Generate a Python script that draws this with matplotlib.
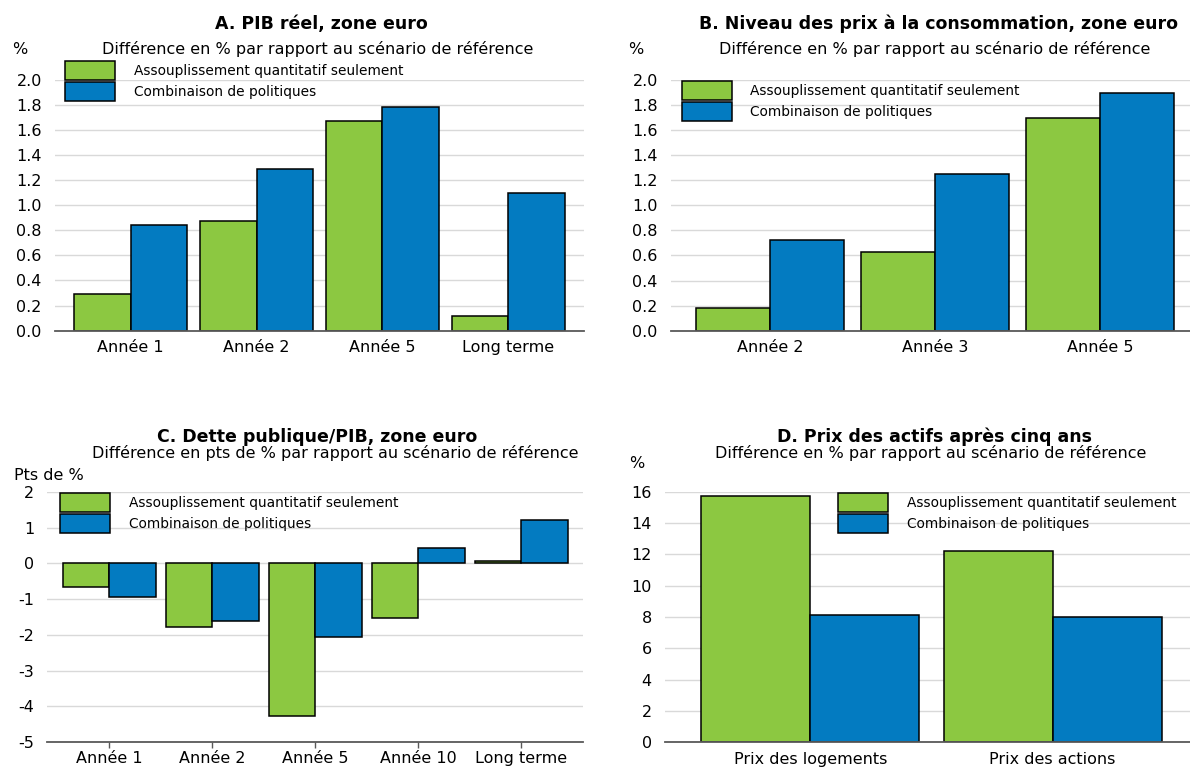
import matplotlib
matplotlib.use("Agg")
import matplotlib.pyplot as plt
import numpy as np

# la police de référence est large : DejaVu Sans s'en approche mieux qu'Arial
plt.rcParams["font.family"] = ["DejaVu Sans"]

W, H = 1190, 767

GREEN = "#8CC841"
BLUE = "#037BC1"
GRID = "#d9d9d9"
AXIS = "#595959"

SERIES = ["Assouplissement quantitatif seulement", "Combinaison de politiques"]
SUB_PCT = "Différence en % par rapport au scénario de référence"
SUB_PTS = "Différence en pts de % par rapport au scénario de référence"

# A. PIB réel
cats_a = ["Année 1", "Année 2", "Année 5", "Long terme"]
qe_a = [0.29, 0.87, 1.67, 0.12]
mix_a = [0.84, 1.29, 1.78, 1.10]

# B. Prix à la consommation
cats_b = ["Année 2", "Année 3", "Année 5"]
qe_b = [0.18, 0.63, 1.70]
mix_b = [0.72, 1.25, 1.90]

# C. Dette publique/PIB
cats_c = ["Année 1", "Année 2", "Année 5", "Année 10", "Long terme"]
qe_c = [-0.65, -1.78, -4.26, -1.54, 0.07]
mix_c = [-0.93, -1.61, -2.05, 0.43, 1.21]

# D. Prix des actifs
cats_d = ["Prix des logements", "Prix des actions"]
qe_d = [15.7, 12.2]
mix_d = [8.1, 8.0]

FS_TITLE = 12.5
FS_SUB = 11.5
FS_TICK = 11.5
FS_LEG = 9.9


def box(x0, y0, x1, y1):
    # boîte en pixels (origine en haut à gauche) -> fraction de figure
    return [x0 / W, 1 - y1 / H, (x1 - x0) / W, (y1 - y0) / H]


def ftxt(fig, x, y, s, **kw):
    fig.text(x / W, 1 - y / H, s, va="center", **kw)


def panel(fig, rect, cats, qe, mix, ylim, yticks, fmt, ticks_on=False):
    ax = fig.add_axes(rect)
    x = np.arange(len(cats))
    w = 0.45
    ax.bar(x - w / 2, qe, w, color=GREEN, edgecolor="black", linewidth=1.1,
           label=SERIES[0], zorder=3)
    ax.bar(x + w / 2, mix, w, color=BLUE, edgecolor="black", linewidth=1.1,
           label=SERIES[1], zorder=3)
    ax.set_xlim(-0.6, len(cats) - 0.4)
    ax.set_ylim(*ylim)
    ax.set_yticks(yticks)
    ax.set_yticklabels([fmt.format(v) for v in yticks])
    ax.set_xticks(x)
    ax.set_xticklabels(cats)
    ax.grid(axis="y", color=GRID, linewidth=1.0, zorder=0)
    for s in ["left", "right", "top"]:
        ax.spines[s].set_visible(False)
    ax.spines["bottom"].set_color(AXIS)
    ax.spines["bottom"].set_linewidth(1.3)
    ax.spines["bottom"].set_zorder(4)
    ax.tick_params(axis="y", length=0, pad=9.5, labelsize=FS_TICK)
    ax.tick_params(axis="x", length=4 if ticks_on else 0, color=AXIS,
                   width=1.0, pad=2.5 if ticks_on else 7, labelsize=FS_TICK)
    ax.set_facecolor("none")
    return ax


def legend(ax, x, y):
    em = FS_LEG * 100 / 72
    ax.legend(loc="upper left", bbox_to_anchor=(x / W, 1 - y / H),
              bbox_transform=ax.figure.transFigure, frameon=False,
              fontsize=FS_LEG, handlelength=50 / em, handleheight=24 / em,
              labelspacing=0.18, handletextpad=19 / em,
              borderpad=0, borderaxespad=0)


fig = plt.figure(figsize=(W / 100, H / 100), dpi=100)

# Panneau A
ax = panel(fig, box(55, 79.5, 584, 330.7), cats_a, qe_a, mix_a,
           (0, 2.0), np.round(np.arange(0, 2.01, 0.2), 1), "{:.1f}")
legend(ax, 65.3, 61)
ftxt(fig, 321, 24, "A. PIB réel, zone euro", ha="center", fontsize=FS_TITLE,
     fontweight="bold")
ftxt(fig, 318, 49, SUB_PCT, ha="center", fontsize=FS_SUB)
ftxt(fig, 20, 49, "%", ha="center", fontsize=FS_SUB)

# Panneau B
ax = panel(fig, box(671, 80, 1199, 330.7), cats_b, qe_b, mix_b,
           (0, 2.0), np.round(np.arange(0, 2.01, 0.2), 1), "{:.1f}")
legend(ax, 681.5, 81)
ftxt(fig, 938.5, 24, "B. Niveau des prix à la consommation, zone euro",
     ha="center", fontsize=FS_TITLE, fontweight="bold")
ftxt(fig, 935, 49, SUB_PCT, ha="center", fontsize=FS_SUB)
ftxt(fig, 636, 49, "%", ha="center", fontsize=FS_SUB)

# Panneau C
ax = panel(fig, box(47.4, 491.7, 583, 742.3), cats_c, qe_c, mix_c,
           (-5, 2), list(range(-5, 3)), "{:d}", ticks_on=True)
legend(ax, 60, 492.7)
ftxt(fig, 317, 436.7, "C. Dette publique/PIB, zone euro", ha="center",
     fontsize=FS_TITLE, fontweight="bold")
ftxt(fig, 335, 453, SUB_PTS, ha="center", fontsize=FS_SUB)
ftxt(fig, 49, 476, "Pts de %", ha="center", fontsize=FS_SUB)

# Panneau D
ax = panel(fig, box(665, 491.7, 1198, 742.3), cats_d, qe_d, mix_d,
           (0, 16), list(range(0, 17, 2)), "{:d}")
legend(ax, 838, 492.7)
ftxt(fig, 934.7, 436.7, "D. Prix des actifs après cinq ans", ha="center",
     fontsize=FS_TITLE, fontweight="bold")
ftxt(fig, 931, 453, SUB_PCT, ha="center", fontsize=FS_SUB)
ftxt(fig, 637, 463.3, "%", ha="center", fontsize=FS_SUB)

fig.savefig("out.png", dpi=100)
